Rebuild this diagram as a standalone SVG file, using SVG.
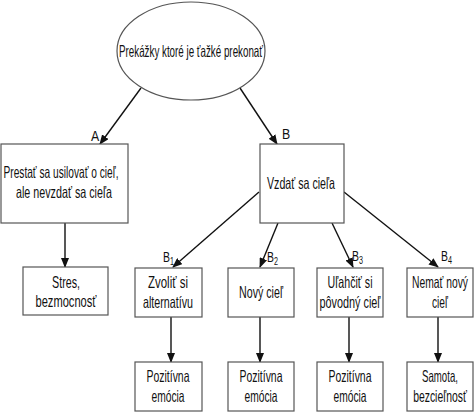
<svg xmlns="http://www.w3.org/2000/svg" width="474" height="413" viewBox="0 0 474 413">
<style>
.box{fill:#fff;stroke:#555;stroke-width:1.2}
.t{font-family:"Liberation Sans",Arial,sans-serif;font-size:16.5px;fill:#111;text-anchor:middle}
.lbl{font-family:"Liberation Sans",Arial,sans-serif;font-size:14.5px;fill:#111}
.sub{font-size:10px}
.c line{stroke:#111;stroke-width:1.4;marker-end:url(#ah)}
</style>
<defs>
<marker id="ah" markerWidth="10" markerHeight="8" refX="9" refY="4" orient="auto" markerUnits="userSpaceOnUse">
<path d="M0,0 L10,4 L0,8 Z" fill="#111"/>
</marker>
</defs>
<rect width="474" height="413" fill="#fff"/>
<g class="c">
<line x1="141" y1="88" x2="100" y2="144"/>
<line x1="240" y1="88" x2="277" y2="144"/>
<line x1="65" y1="223" x2="65" y2="267"/>
<line x1="259" y1="192" x2="173" y2="267"/>
<line x1="278" y1="223" x2="260" y2="267"/>
<line x1="332" y1="223" x2="353" y2="267"/>
<line x1="344" y1="192" x2="438" y2="267"/>
<line x1="171" y1="317" x2="171" y2="362"/>
<line x1="260" y1="317" x2="260" y2="362"/>
<line x1="349" y1="317" x2="349" y2="362"/>
<line x1="438" y1="317" x2="438" y2="362"/>
</g>
<g id="labels">
<g transform="translate(91,141) scale(0.85,1)"><text class="lbl" x="0" y="0">A</text></g>
<g transform="translate(282,139) scale(0.85,1)"><text class="lbl" x="0" y="0">B</text></g>
<g transform="translate(163,262) scale(0.72,1)"><text class="lbl" x="0" y="0">B<tspan class="sub" dy="3">1</tspan></text></g>
<g transform="translate(267,262) scale(0.72,1)"><text class="lbl" x="0" y="0">B<tspan class="sub" dy="3">2</tspan></text></g>
<g transform="translate(352,261) scale(0.72,1)"><text class="lbl" x="0" y="0">B<tspan class="sub" dy="3">3</tspan></text></g>
<g transform="translate(441,261) scale(0.72,1)"><text class="lbl" x="0" y="0">B<tspan class="sub" dy="3">4</tspan></text></g>
</g>
<g id="root">
<ellipse cx="191" cy="51" rx="74" ry="49" fill="#fff" stroke="#555" stroke-width="1.2"/>
<text class="t" x="191" y="57" font-size="15" textLength="144" lengthAdjust="spacingAndGlyphs">Prekážky ktoré je ťažké prekonať</text>
</g>
<g id="nodeA">
<rect class="box" x="1" y="144" width="127" height="79"/>
<text class="t" x="61" y="178" textLength="115" lengthAdjust="spacingAndGlyphs">Prestať sa usilovať o cieľ,</text>
<text class="t" x="64" y="198" textLength="96" lengthAdjust="spacingAndGlyphs">ale nevzdať sa cieľa</text>
</g>
<g id="nodeB">
<rect class="box" x="260" y="144" width="84" height="79"/>
<text class="t" x="301" y="189" textLength="68" lengthAdjust="spacingAndGlyphs">Vzdať sa cieľa</text>
</g>
<g id="stres">
<rect class="box" x="23" y="267" width="85" height="48"/>
<text class="t" x="66" y="288" textLength="28" lengthAdjust="spacingAndGlyphs">Stres,</text>
<text class="t" x="66" y="307" textLength="61" lengthAdjust="spacingAndGlyphs">bezmocnosť</text>
</g>
<g id="b1">
<rect class="box" x="135" y="268" width="67" height="49"/>
<text class="t" x="168" y="288" textLength="40" lengthAdjust="spacingAndGlyphs">Zvoliť si</text>
<text class="t" x="168" y="308" textLength="50" lengthAdjust="spacingAndGlyphs">alternatívu</text>
</g>
<g id="b2">
<rect class="box" x="228" y="268" width="66" height="49"/>
<text class="t" x="261" y="298" textLength="44" lengthAdjust="spacingAndGlyphs">Nový cieľ</text>
</g>
<g id="b3">
<rect class="box" x="317" y="268" width="66" height="49"/>
<text class="t" x="350" y="288" textLength="45" lengthAdjust="spacingAndGlyphs">Uľahčiť si</text>
<text class="t" x="350" y="308" textLength="61" lengthAdjust="spacingAndGlyphs">pôvodný cieľ</text>
</g>
<g id="b4">
<rect class="box" x="407" y="268" width="66" height="49"/>
<g transform="translate(440,0) scale(0.64,1)">
<text class="t" x="0" y="288" textLength="87.5" lengthAdjust="spacingAndGlyphs">Nemať nový</text>
<text class="t" x="0" y="308" textLength="25" lengthAdjust="spacingAndGlyphs">cieľ</text>
</g>
</g>
<g id="e1">
<rect class="box" x="135" y="362" width="67" height="49"/>
<text class="t" x="168" y="382" textLength="43" lengthAdjust="spacingAndGlyphs">Pozitívna</text>
<text class="t" x="168" y="402" textLength="33" lengthAdjust="spacingAndGlyphs">emócia</text>
</g>
<g id="e2">
<rect class="box" x="228" y="362" width="66" height="49"/>
<text class="t" x="261" y="382" textLength="43" lengthAdjust="spacingAndGlyphs">Pozitívna</text>
<text class="t" x="261" y="402" textLength="33" lengthAdjust="spacingAndGlyphs">emócia</text>
</g>
<g id="e3">
<rect class="box" x="317" y="362" width="66" height="49"/>
<text class="t" x="350" y="382" textLength="43" lengthAdjust="spacingAndGlyphs">Pozitívna</text>
<text class="t" x="350" y="402" textLength="33" lengthAdjust="spacingAndGlyphs">emócia</text>
</g>
<g id="e4">
<rect class="box" x="407" y="362" width="66" height="49"/>
<g transform="translate(440,0) scale(0.64,1)">
<text class="t" x="0" y="382" textLength="56" lengthAdjust="spacingAndGlyphs">Samota,</text>
<text class="t" x="0" y="402" textLength="84" lengthAdjust="spacingAndGlyphs">bezcieľnosť</text>
</g>
</g>
</svg>
